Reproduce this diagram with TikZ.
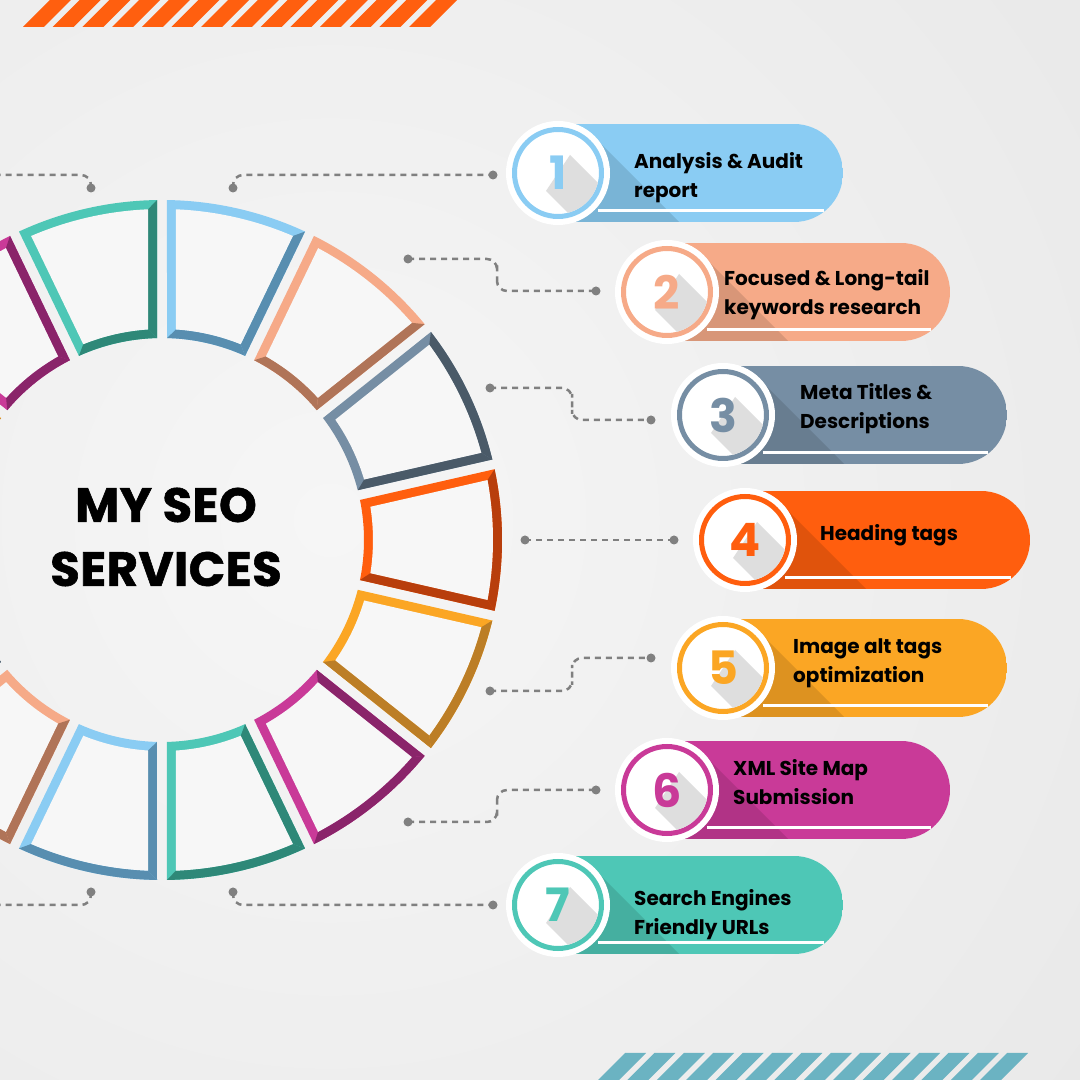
\documentclass[tikz,border=0pt]{standalone}
\usepackage{fontspec}
\setmainfont{Poppins}
\usetikzlibrary{positioning}
\definecolor{bggray}{RGB}{233,233,233}
\definecolor{bglight}{RGB}{246,246,246}
\definecolor{seoorange}{RGB}{255,94,14}
\definecolor{seoorangedk}{RGB}{184,62,12}
\definecolor{seoslate}{RGB}{118,142,164}
\definecolor{seoslatedk}{RGB}{74,90,104}
\definecolor{seopeach}{RGB}{246,170,136}
\definecolor{seopeachdk}{RGB}{176,116,88}
\definecolor{seoblue}{RGB}{138,204,243}
\definecolor{seobluedk}{RGB}{88,142,176}
\definecolor{seoteal}{RGB}{78,199,182}
\definecolor{seotealdk}{RGB}{46,136,120}
\definecolor{seomagenta}{RGB}{201,58,152}
\definecolor{seomagentadk}{RGB}{138,36,106}
\definecolor{seoyellow}{RGB}{251,166,36}
\definecolor{seoyellowdk}{RGB}{188,126,38}
\definecolor{dashgray}{RGB}{128,128,128}
\definecolor{stripeorange}{RGB}{255,95,15}
\definecolor{stripeteal}{RGB}{107,179,194}

\newcommand{\titlefont}{\fontsize{48}{64}\selectfont\bfseries\addfontfeatures{LetterSpace=1,FakeBold=1.2}}
\newcommand{\pilltext}{\fontsize{20}{29}\selectfont\bfseries}
\newcommand{\digitfont}{\fontsize{46}{46}\selectfont\bfseries}

% dark band only on edges facing away from the light (top left)
\newcommand{\shadeband}[3]{%
  \pgfmathparse{cos(#1-135)}%
  \ifdim\pgfmathresult pt<0pt \fill[#2] #3;\fi}

% one ring segment: #1 centre angle, #2 colour name
\newcommand{\ringseg}[2]{%
  \pgfmathsetmacro{\ha}{#1+12.857}%
  \pgfmathsetmacro{\hb}{#1-12.857}%
  \fill[#2] (\ha-1.42:202) -- (\ha-0.84:340) arc[start angle=\ha-0.84, end angle=\hb+0.84, radius=340pt]
    -- (\hb+1.42:202) arc[start angle=\hb+1.42, end angle=\ha-1.42, radius=202pt] -- cycle;
  \shadeband{#1}{#2dk}{(\ha-0.84:340) arc[start angle=\ha-0.84, end angle=\hb+0.84, radius=340pt]
    -- (\hb+2.42:331) arc[start angle=\hb+2.42, end angle=\ha-2.42, radius=331pt] -- cycle}%
  \shadeband{#1+90}{#2dk}{(\ha-1.42:202) -- (\ha-0.84:340) -- (\ha-2.42:331) -- (\ha-3.80:211) -- cycle}%
  \shadeband{#1+180}{#2dk}{(\hb+1.42:202) arc[start angle=\hb+1.42, end angle=\ha-1.42, radius=202pt]
    -- (\ha-3.80:211) arc[start angle=\ha-3.80, end angle=\hb+3.80, radius=211pt] -- cycle}%
  \shadeband{#1-90}{#2dk}{(\hb+0.84:340) -- (\hb+1.42:202) -- (\hb+3.80:211) -- (\hb+2.42:331) -- cycle}%
  \fill[segface] (\ha-3.80:211) -- (\ha-2.42:331) arc[start angle=\ha-2.42, end angle=\hb+2.42, radius=331pt]
    -- (\hb+3.80:211) arc[start angle=\hb+3.80, end angle=\ha-3.80, radius=211pt] -- cycle;
}

% one service pill: #1 name, #2 x, #3 y, #4 right end, #5 colour, #6 digit, #7 text x, #8 text y, #9 text
\newcommand{\seopill}[9]{%
  \begin{scope}
    \clip[rounded corners=49pt] (#2-49,#3-49) rectangle (#4,#3+49);
    \fill[#5] (#2-49,#3-49) rectangle (#4,#3+49);
    \fill[#5!88!black] (#2+36,#3+36) -- ++(200,-200) -- ++(-72,-72) -- ++(-200,200) -- cycle;
    \draw[white, line width=3pt] (#2+40,#3-38) -- (#4-19,#3-38);
  \end{scope}
  \node[badge] (#1) at (#2,#3) {};
  \draw[#5, line width=5pt] (#1.center) circle[radius=43.5pt];
  \begin{scope}
    \clip (#1.center) circle[radius=41pt];
    \fill[black!13] (#2+12,#3+18) -- ++(80,-80) -- ++(-24,-36) -- ++(-80,80) -- cycle;
  \end{scope}
  \node[font=\digitfont, text=#5] (#1n) at (#1.center) {#6};
  \node[pilllabel] (#1t) at (#7,#8) {#9};
}

\begin{document}
\begin{tikzpicture}[x=1pt, y=1pt,
    segface/.style={fill=white!97!black},
    badge/.style={circle, fill=white, minimum size=104pt, inner sep=0pt},
    pilllabel/.style={anchor=west, align=left, font=\pilltext, text=black, inner sep=0pt},
    link/.style={dashgray, line width=2.5pt, dash pattern=on 6pt off 5pt, rounded corners=10pt},
    linkdot/.style={circle, fill=dashgray, inner sep=0pt, minimum size=9pt}]
  \useasboundingbox (0,0) rectangle (1080,1080);
  \clip (0,0) rectangle (1080,1080);
  \fill[bggray] (0,0) rectangle (1080,1080);
  \shade[inner color=bglight, outer color=bggray] (330,560) circle[radius=950pt];

  % stripes
  \foreach \i in {0,...,13} {
    \fill[stripeorange] (23+29.7*\i,1053) -- ++(21,0) -- ++(27,27) -- ++(-21,0) -- cycle;
    \fill[stripeteal] (598+29.4*\i,0) -- ++(21,0) -- ++(27,27) -- ++(-21,0) -- cycle;
  }

  % ring
  \begin{scope}[shift={(162,540)}]
    \foreach \k/\c in {0/seoorange, 1/seoslate, 2/seopeach, 3/seoblue, 4/seoteal, 5/seomagenta, 6/seoyellow,
                       7/seoorange, 8/seoslate, 9/seopeach, 10/seoblue, 11/seoteal, 12/seomagenta, 13/seoyellow}
      {\ringseg{\k*25.714}{\c}}
  \end{scope}
  \node[font=\titlefont, align=center, text=black] (title) at (166,543) {MY SEO\\SERVICES};

  % connector end points
  \coordinate (s1) at (233,892);  \coordinate (e1) at (493,905);
  \coordinate (s2) at (408,821);  \coordinate (e2) at (596,789);
  \coordinate (s3) at (490,692);  \coordinate (e3) at (651,660);
  \coordinate (s4) at (525,540);  \coordinate (e4) at (674,540);
  \coordinate (s5) at (490,389);  \coordinate (e5) at (651,422);
  \coordinate (s6) at (408,258);  \coordinate (e6) at (596,290);
  \coordinate (s7) at (233,188);  \coordinate (e7) at (493,175);
  \coordinate (s8) at (91,892);   \coordinate (e8) at (-169,905);
  \coordinate (s9) at (91,188);   \coordinate (e9) at (-169,175);

  \draw[link] (s1) |- (e1);
  \draw[link] (s2) -| (497,805) |- (e2);
  \draw[link] (s3) -| (572,676) |- (e3);
  \draw[link] (s4) -- (e4);
  \draw[link] (s5) -| (572,405) |- (e5);
  \draw[link] (s6) -| (497,274) |- (e6);
  \draw[link] (s7) |- (e7);
  \draw[link] (s8) |- (e8);
  \draw[link] (s9) |- (e9);
  \foreach \p in {s1,e1,s2,e2,s3,e3,s4,e4,s5,e5,s6,e6,s7,e7,s8,s9}
    \node[linkdot] at (\p) {};

  % services
  \seopill{p1}{558}{907}{843}{seoblue}{1}{634}{902}{Analysis \& Audit\\report}
  \seopill{p2}{667}{788}{950}{seopeach}{2}{724}{785.5}{Focused \& Long-tail\\keywords research}
  \seopill{p3}{723}{665}{1007}{seoslate}{3}{800}{671}{Meta Titles \&\\Descriptions}
  \seopill{p4}{745}{540}{1030}{seoorange}{4}{820}{544.5}{Heading tags}
  \seopill{p5}{723}{412}{1007}{seoyellow}{5}{793}{416.5}{Image alt tags\\optimization}
  \seopill{p6}{667}{290}{950}{seomagenta}{6}{733}{297.5}{XML Site Map\\Submission}
  \seopill{p7}{558}{175}{843}{seoteal}{7}{634}{165.5}{Search Engines\\Friendly URLs}
\end{tikzpicture}
\end{document}
